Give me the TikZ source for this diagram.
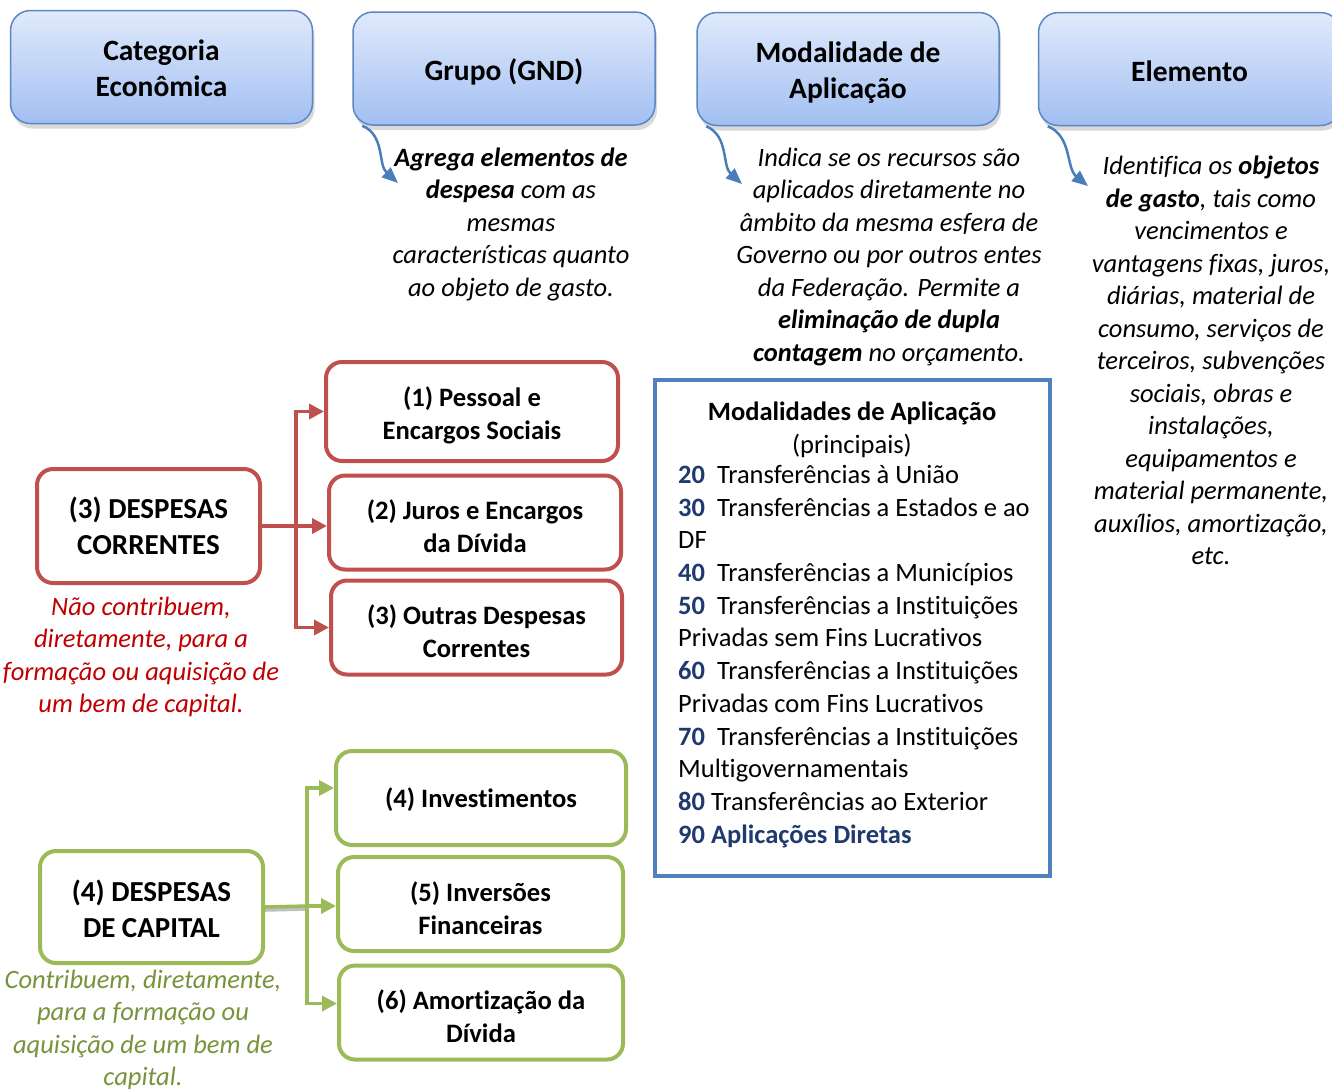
\documentclass[tikz,border=0pt]{standalone}
\usepackage{fontspec}
\setmainfont{Carlito}[Ligatures=NoCommon]
\usetikzlibrary{arrows.meta,shadows}

\definecolor{hdrtop}{HTML}{E0EAFB}
\definecolor{hdrbot}{HTML}{A2BFF2}
\definecolor{hdrline}{HTML}{5B87C5}
\definecolor{corred}{HTML}{C0504D}
\definecolor{txtred}{HTML}{C00000}
\definecolor{capgreen}{HTML}{9BBB59}
\definecolor{txtgreen}{HTML}{77933C}
\definecolor{modblue}{HTML}{4F81BD}
\definecolor{numblue}{HTML}{1F3A6E}
\definecolor{arrblue}{HTML}{4A7EBB}

\newcommand{\modcod}[1]{\textcolor{numblue}{\textbf{#1}}}
% lower a line of text without changing the size of its node
\newcommand{\baixa}[2][4pt]{\raisebox{-#1}[\height][\depth]{#2}}

\tikzset{
  cabecalho/.style={draw=hdrline, line width=1.5pt, rounded corners=20pt,
    top color=hdrtop, bottom color=hdrbot, minimum width=302pt, minimum height=113pt,
    align=center, font=\fontsize{29.5}{36}\selectfont\bfseries,
    drop shadow={shadow xshift=2pt, shadow yshift=-5pt, opacity=0.3}},
  nota/.style={align=center, inner sep=0pt, font=\fontsize{26.5}{32.5}\selectfont\itshape},
  caixa/.style={draw, line width=4pt, rounded corners=16pt, fill=white, align=center,
    minimum width=290pt, minimum height=94pt, font=\fontsize{26.6}{33}\selectfont\bfseries},
  categ/.style={caixa, minimum width=223pt, minimum height=114pt,
    font=\fontsize{29}{35.5}\selectfont\bfseries},
  seta/.style={line width=3.5pt, -{Triangle[length=15pt,width=15pt]}},
  curva/.style={arrblue, line width=2.5pt, -{Triangle[length=16pt,width=13pt]}},
}

\begin{document}
\begin{tikzpicture}[x=1pt,y=-1pt]
  \useasboundingbox (0,0) rectangle (1332,1088);
  \clip (0,0) rectangle (1332,1088);
  % Headers
  \node[cabecalho] (categoria) at (161.5,67) {\baixa[1pt]{Categoria}\\\baixa[1pt]{Econômica}};
  \node[cabecalho] (grupo) at (504,68.5) {\baixa[3pt]{Grupo (GND)}};
  \node[cabecalho] (modalidade) at (848,69) {\baixa{Modalidade de}\\\baixa{Aplicação}};
  \node[cabecalho] (elemento) at (1189.5,69) {\baixa[2pt]{Elemento}};
  % Notes under the headers
  \node[nota] (grupoNota) at (511,224) {\textbf{Agrega elementos de}\\\textbf{despesa} com as\\mesmas\\características quanto\\ao objeto de gasto.};
  \node[nota] (modalNota) at (889,257) {Indica se os recursos são\\aplicados diretamente no\\âmbito da mesma esfera de\\Governo ou por outros entes\\da Federação. Permite a\\\textbf{eliminação de dupla}\\\textbf{contagem} no orçamento.};
  \node[nota] (elemNota) at (1211,360.5) {Identifica os \textbf{objetos}\\\textbf{de gasto}, tais como\\vencimentos e\\vantagens fixas, juros,\\diárias, material de\\consumo, serviços de\\terceiros, subvenções\\sociais, obras e\\instalações,\\equipamentos e\\material permanente,\\auxílios, amortização,\\etc.};
  % Curved arrows
  \coordinate (grupoSeta) at (398,183);
  \coordinate (modalSeta) at (742,184);
  \coordinate (elemSeta) at (1088,186);
  \draw[curva] ([xshift=10pt]grupo.south west) .. controls (385,135) and (378,165) .. (grupoSeta);
  \draw[curva] ([xshift=10pt]modalidade.south west) .. controls (729,136) and (722,166) .. (modalSeta);
  \draw[curva] ([xshift=10pt]elemento.south west) .. controls (1072,136) and (1066,168) .. (elemSeta);
  % Despesas correntes
  \node[categ, draw=corred] (correntes) at (148.5,526) {(3) DESPESAS\\CORRENTES};
  \node[caixa, draw=corred, minimum width=292pt, minimum height=99pt] (pessoal) at (472,411.5) {\baixa{(1) Pessoal e}\\\baixa{Encargos Sociais}};
  \node[caixa, draw=corred, minimum width=292pt] (juros) at (475,522.5) {\baixa{(2) Juros e Encargos}\\\baixa{da Dívida}};
  \node[caixa, draw=corred, minimum width=291pt] (outras) at (476.5,627.5) {\baixa{(3) Outras Despesas}\\\baixa{Correntes}};
  \node[nota, text=txtred] (correntesNota) at (141,657) {Não contribuem,\\diretamente, para a\\formação ou aquisição de\\um bem de capital.};
  \coordinate (jVermelho) at (296,526);
  \draw[line width=3.5pt, corred] (correntes.east) -- (jVermelho);
  \draw[seta, corred] (jVermelho) |- (pessoal.west);
  \draw[seta, corred] (jVermelho) -- (juros.west |- jVermelho);
  \draw[seta, corred] (jVermelho) |- (outras.west);
  % Despesas de capital
  \node[categ, draw=capgreen, minimum height=112pt] (capital) at (151.5,907) {\baixa[2pt]{(4) DESPESAS}\\\baixa[2pt]{DE CAPITAL}};
  \node[caixa, draw=capgreen] (invest) at (481,798) {\baixa[2pt]{(4) Investimentos}};
  \node[caixa, draw=capgreen, minimum width=285pt] (inversoes) at (480.5,904) {\baixa{(5) Inversões}\\\baixa{Financeiras}};
  \node[caixa, draw=capgreen, minimum width=284pt] (amort) at (481,1012.5) {\baixa{(6) Amortização da}\\\baixa{Dívida}};
  \node[nota, text=txtgreen] (capitalNota) at (143,1030) {Contribuem, diretamente,\\para a formação ou\\aquisição de um bem de\\capital.};
  \coordinate (jVerde) at (307,906);
  \draw[line width=3.5pt, capgreen, preaction={draw=black, opacity=0.25, line width=3.5pt, transform canvas={yshift=-3pt}}] (capital.east) -- (jVerde);
  \draw[seta, capgreen] (jVerde) |- ([yshift=10pt]invest.west);
  \draw[seta, capgreen] (jVerde) -- (inversoes.west |- jVerde);
  \draw[seta, capgreen] (jVerde) |- ([yshift=9pt]amort.west);
  % Modalidades box
  \node[draw=modblue, line width=4pt, minimum width=395pt, minimum height=496pt, inner sep=0pt] (modbox) at (852.5,628) {};
  \node[align=center, inner sep=0pt, font=\fontsize{26.5}{32.5}\selectfont] (modTitulo) at (852,430) {\textbf{Modalidades de Aplicação}\\(principais)};
  \node[anchor=north west, align=left, inner sep=0pt, font=\fontsize{26.5}{32.7}\selectfont] (modLista) at (678,465) {%
    \modcod{20}\ \ Transferências à União\\
    \modcod{30}\ \ Transferências a Estados e ao\\
    DF\\
    \modcod{40}\ \ Transferências a Municípios\\
    \modcod{50}\ \ Transferências a Instituições\\
    Privadas sem Fins Lucrativos\\
    \modcod{60}\ \ Transferências a Instituições\\
    Privadas com Fins Lucrativos\\
    \modcod{70}\ \ Transferências a Instituições\\
    Multigovernamentais\\
    \modcod{80} Transferências ao Exterior\\
    \textcolor{numblue}{\textbf{90 Aplicações Diretas}}};
\end{tikzpicture}
\end{document}
